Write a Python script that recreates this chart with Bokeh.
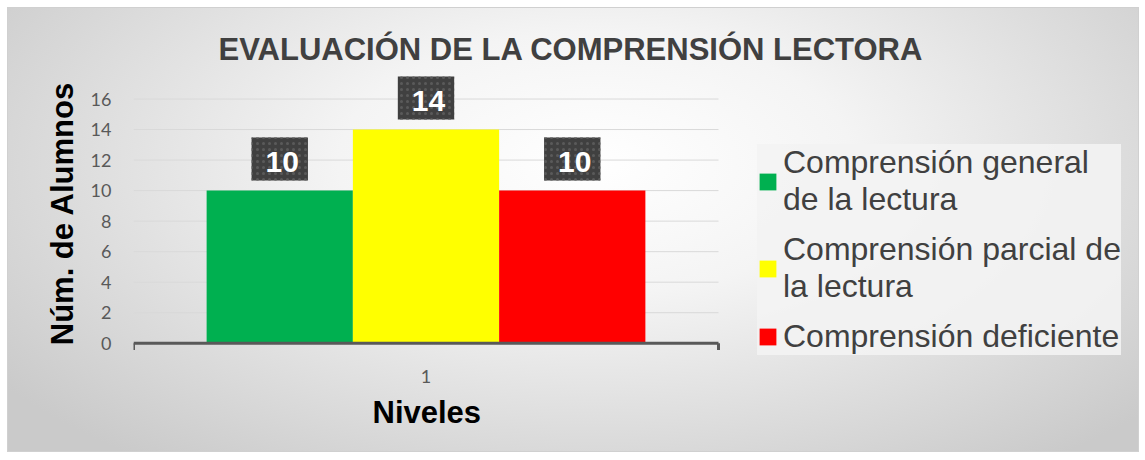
from bokeh.plotting import figure
from bokeh.models import Range1d, Legend, LegendItem, FixedTicker, ColumnDataSource, Title
from bokeh.core.properties import value
from bokeh.embed import file_html
from bokeh.resources import INLINE

# ---- data ----
categories = ["1"]
series = ["Comprensión general\nde la lectura",
          "Comprensión parcial de\nla lectura",
          "Comprensión deficiente"]
values = [10, 14, 10]
colors = ["#00B050", "#FFFF00", "#FF0000"]
y_ticks = [0, 2, 4, 6, 8, 10, 12, 14, 16]

title = "EVALUACIÓN DE LA COMPRENSIÓN LECTORA"
x_label = "Niveles"
y_label = "Núm. de Alumnos"

# category band spans [0, 1]; the frame continues to the right to hold the legend
band_start, band_end = 0.0, 1.0
frame_px = 1005.0
band_px = 585.0
x_end = band_end * frame_px / band_px

p = figure(width=1130, height=443, output_backend="svg", toolbar_location=None,
           x_range=Range1d(band_start, x_end),
           y_range=Range1d(-1.0, 18),
           min_border_left=125, min_border_right=0,
           min_border_top=60, min_border_bottom=93,
           title=title)
p.margin = (8, 8, 8, 8)

p.styles = {
    "background-image": "radial-gradient(ellipse 65% 85% at 52% 35%, #ffffff 0%, #f4f4f4 35%, #cacaca 100%)",
    "outline": "1px solid #d0d0d0",
}
p.background_fill_alpha = 0
p.border_fill_alpha = 0
p.outline_line_color = None

p.title.text_font = "Liberation Sans"
p.title.text_font_size = "31px"
p.title.text_font_style = "bold"
p.title.text_color = "#404040"
p.title.align = "left"
p.title.offset = 85
p.title.standoff = 4

# gridlines limited to the category band
n_t = len(y_ticks)
p.segment(x0=[band_start] * n_t, x1=[band_end] * n_t, y0=y_ticks, y1=y_ticks,
          line_color="#d9d9d9", line_width=1)

cat_center = (band_start + band_end) / 2
bar_w = 0.25
n = len(series)
renderers = []
for i, (s, v, c) in enumerate(zip(series, values, colors)):
    xc = cat_center + (i - (n - 1) / 2) * bar_w
    src = ColumnDataSource(dict(x=[xc], val=[v], lab=[str(v)]))
    r = p.vbar(x="x", top="val", width=bar_w, source=src, fill_color=c, line_color=None)
    renderers.append(r)
    p.text(x="x", y="val", text="lab", source=src,
           text_align="center", text_baseline="bottom", y_offset=-10,
           text_font=value("Liberation Sans"), text_font_size="30px",
           text_font_style="bold", text_color="#ffffff",
           background_fill_color="#404040", padding=[14, 9, 14, 9],
           background_hatch_pattern="dot", background_hatch_color="#5a5a5a",
           background_hatch_scale=6)

# category axis line with end tick marks
p.segment(x0=[band_start], x1=[band_end], y0=[0], y1=[0], line_color="#595959", line_width=3)
p.segment(x0=[band_start, band_end], x1=[band_start, band_end], y0=[0, 0], y1=[-0.45, -0.45],
          line_color="#595959", line_width=3)

# axes
p.yaxis.ticker = FixedTicker(ticks=y_ticks)
p.yaxis.axis_line_color = None
p.yaxis.major_tick_line_color = None
p.yaxis.minor_tick_line_color = None
p.yaxis.major_label_text_font = "Lato"
p.yaxis.major_label_text_font_size = "18px"
p.yaxis.major_label_text_color = "#595959"
p.yaxis.major_label_standoff = 16
p.yaxis.axis_label = y_label
p.yaxis.axis_label_text_font = "Liberation Sans"
p.yaxis.axis_label_text_font_size = "31px"
p.yaxis.axis_label_text_font_style = "bold"
p.yaxis.axis_label_text_color = "#000000"
p.yaxis.axis_label_standoff = 8

p.xaxis.ticker = FixedTicker(ticks=[cat_center])
p.xaxis.major_label_overrides = {cat_center: categories[0]}
p.xaxis.axis_line_color = None
p.xaxis.major_tick_line_color = None
p.xaxis.minor_tick_line_color = None
p.xaxis.major_label_text_font = "Lato"
p.xaxis.major_label_text_font_size = "18px"
p.xaxis.major_label_text_color = "#595959"
p.xaxis.major_label_standoff = 5

# x-axis title centred under the category band
xt = Title(text=x_label, align="left", offset=239, standoff=14,
           text_font="Liberation Sans", text_font_size="31px",
           text_font_style="bold", text_color="#000000")
p.add_layout(xt, "below")

p.xgrid.grid_line_color = None
p.ygrid.grid_line_color = None

legend = Legend(items=[LegendItem(label=s, renderers=[r]) for s, r in zip(series, renderers)],
                location=(624, 3))
legend.label_text_font = "Liberation Sans"
legend.label_text_font_size = "32px"
legend.label_text_color = "#404040"
legend.glyph_width = 21
legend.glyph_height = 21
legend.label_standoff = 5
legend.padding = 11
legend.spacing = 13
legend.margin = 0
legend.background_fill_color = "#f3f3f3"
legend.background_fill_alpha = 0.9
legend.border_line_color = None
p.add_layout(legend, "center")

open("out.html", "w").write(file_html(p, INLINE))
